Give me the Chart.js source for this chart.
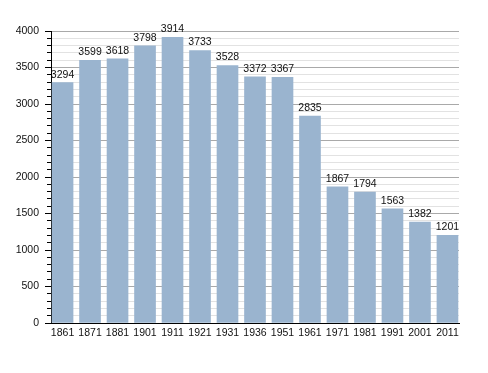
<!DOCTYPE html>
<html>
<head>
<meta charset="utf-8">
<script src="https://cdn.jsdelivr.net/npm/chart.js@4"></script>
<style>
  html, body { margin: 0; padding: 0; background: #fff; }
  #wrap { width: 488px; height: 373px; }
</style>
</head>
<body>
<div id="wrap"><canvas id="myChart" width="488" height="373"></canvas></div>
<script>
var years = ['1861', '1871', '1881', '1901', '1911', '1921', '1931', '1936', '1951', '1961', '1971', '1981', '1991', '2001', '2011'];
var population = [3294, 3599, 3618, 3798, 3914, 3733, 3528, 3372, 3367, 2835, 1867, 1794, 1563, 1382, 1201];
var yMajorTicks = [0, 500, 1000, 1500, 2000, 2500, 3000, 3500, 4000];

var fontFamily = '"Liberation Sans", Arial, sans-serif';
var fontSize = 10.5;

// numbers above each bar
var valueLabels = {
	id: 'valueLabels',
	afterDatasetsDraw: function(chart) {
		var ctx = chart.ctx;
		var meta = chart.getDatasetMeta(0);
		ctx.save();
		ctx.font = fontSize + 'px ' + fontFamily;
		ctx.fillStyle = '#111';
		ctx.textAlign = 'center';
		ctx.textBaseline = 'alphabetic';
		meta.data.forEach(function(bar, i) {
			ctx.fillText(String(population[i]), bar.x, bar.y - 5);
		});
		ctx.restore();
	}
};

var points = population.map(function(v, i) { return { x: i, y: v }; });

new Chart(document.getElementById('myChart').getContext('2d'), {
	type: 'bar',
	data: {
		datasets: [{
			data: points,
			backgroundColor: 'rgb(154, 180, 207)',
			borderWidth: 0,
			barThickness: 21
		}]
	},
	options: {
		responsive: false,
		animation: false,
		layout: { padding: { top: 31, right: 29, bottom: 0, left: 0 } },
		plugins: { legend: { display: false }, tooltip: { enabled: false } },
		scales: {
			x: {
				type: 'linear',
				offset: false,
				min: -0.42,
				max: 14.42,
				grid: { display: false, drawTicks: false, tickLength: 0 },
				border: { display: true, color: '#000', width: 1 },
				afterBuildTicks: function(s) {
					s.ticks = years.map(function(_, i) { return { value: i }; });
				},
				afterFit: function(s) { s.height = 50; },
				ticks: {
					autoSkip: false,
					maxRotation: 0,
					padding: 4,
					color: '#111',
					font: { family: fontFamily, size: fontSize },
					callback: function(v) { return years[v]; }
				}
			},
			y: {
				min: 0,
				max: 4000,
				weight: 1,
				afterBuildTicks: function(s) {
					s.ticks = yMajorTicks.map(function(v) { return { value: v }; });
				},
				afterFit: function(s) { s.width = 51; },
				grid: { color: '#a9a9a9', tickColor: '#000', tickLength: 6 },
				border: { display: true, color: '#000', width: 1 },
				ticks: {
					padding: 6,
					color: '#111',
					font: { family: fontFamily, size: fontSize },
					callback: function(v) { return String(v); }
				}
			},
			y2: {
				position: 'left',
				min: 0,
				max: 4000,
				weight: 0,
				ticks: { display: false, stepSize: 100 },
				afterFit: function(s) { s.width = 0; },
				grid: {
					color: function(c) { return c.tick && c.tick.value % 500 === 0 ? 'rgba(0,0,0,0)' : '#e2e2e2'; },
					tickColor: '#000',
					tickLength: 4
				},
				border: { display: false }
			}
		}
	},
	plugins: [valueLabels]
});
</script>
</body>
</html>
